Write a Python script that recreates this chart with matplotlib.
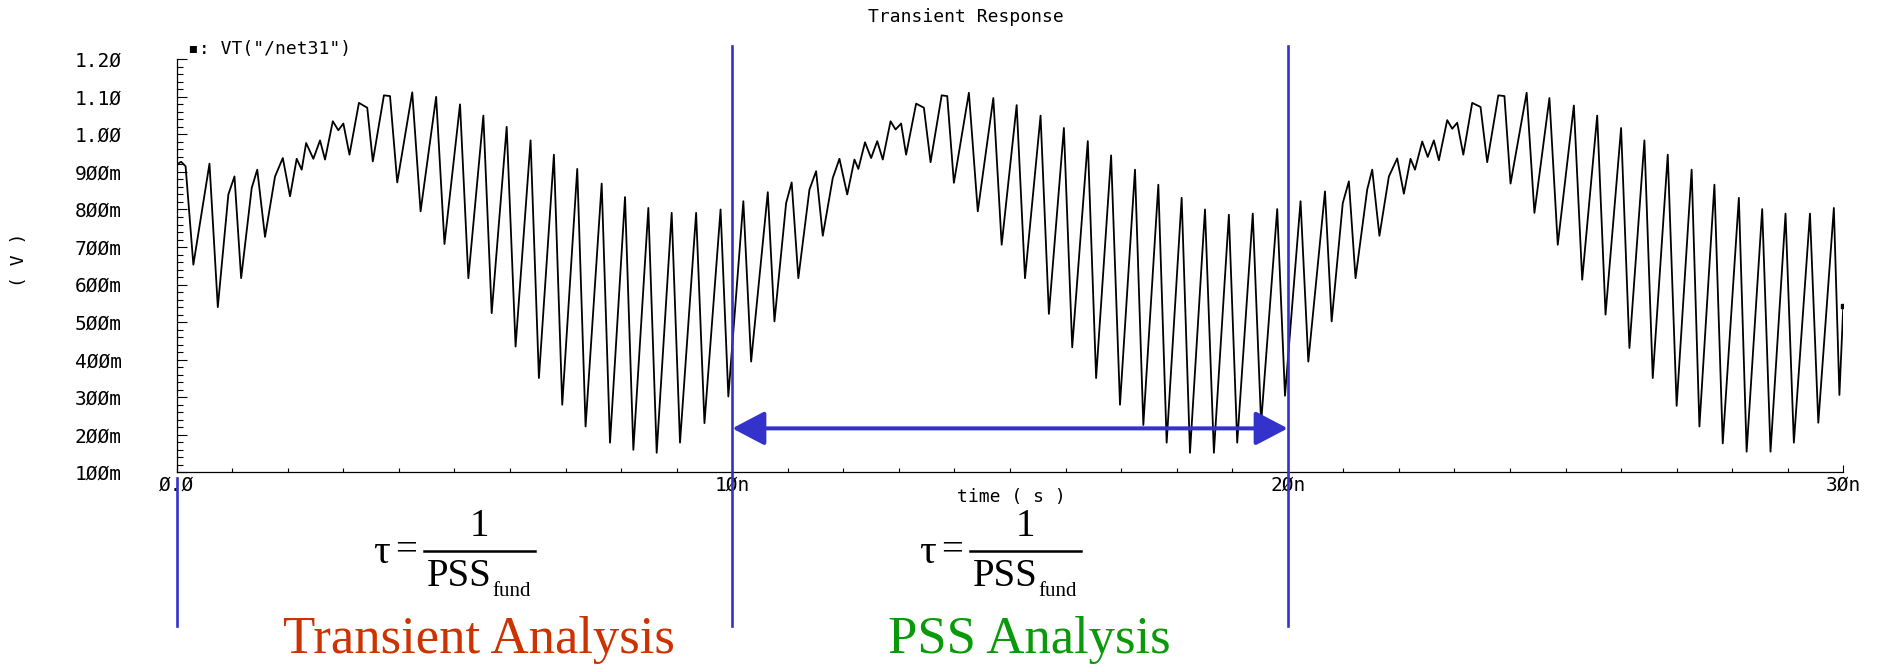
import matplotlib
matplotlib.use("Agg")
import matplotlib.pyplot as plt
import matplotlib.transforms as mtransforms
from matplotlib.patches import FancyArrowPatch, ArrowStyle
from matplotlib.lines import Line2D
from matplotlib.ticker import MultipleLocator

# ---------------- data ----------------
# waveform extrema: time in ns, voltage in V
time_ns = [
    0.00, 0.08, 0.16, 0.30, 0.59, 0.74, 0.93, 1.04, 1.16, 1.35, 1.45, 1.59, 1.77, 1.91,
    2.04, 2.16, 2.25, 2.33, 2.46, 2.58, 2.67, 2.81, 2.91, 3.00, 3.11, 3.28, 3.43, 3.53,
    3.73, 3.84, 3.97, 4.24, 4.39, 4.67, 4.82, 5.10, 5.25, 5.52, 5.67, 5.94, 6.10, 6.37,
    6.52, 6.79, 6.94, 7.21, 7.36, 7.65, 7.80, 8.07, 8.22, 8.49, 8.64, 8.91, 9.06, 9.35,
    9.50, 9.79, 9.93,
    10.20, 10.34, 10.64, 10.76, 10.97, 11.07, 11.19, 11.39, 11.51, 11.63, 11.81, 11.93,
    12.07, 12.20, 12.27, 12.39, 12.50, 12.61, 12.71, 12.85, 12.94, 13.04, 13.13, 13.31,
    13.45, 13.57, 13.77, 13.87, 13.99, 14.26, 14.42, 14.70, 14.85, 15.12, 15.27, 15.55,
    15.70, 15.97, 16.12, 16.40, 16.55, 16.82, 16.98, 17.25, 17.40, 17.67, 17.82, 18.09,
    18.24, 18.51, 18.67, 18.94, 19.09, 19.37, 19.52, 19.81, 19.95,
    20.23, 20.37, 20.67, 20.79, 20.99, 21.10, 21.22, 21.43, 21.52, 21.65, 21.82, 21.97,
    22.09, 22.21, 22.29, 22.42, 22.52, 22.63, 22.72, 22.87, 22.96, 23.05, 23.16, 23.32,
    23.47, 23.59, 23.79, 23.90, 24.01, 24.30, 24.44, 24.71, 24.86, 25.15, 25.30, 25.57,
    25.72, 26.00, 26.15, 26.42, 26.57, 26.84, 27.00, 27.27, 27.41, 27.68, 27.83, 28.12,
    28.26, 28.54, 28.69, 28.96, 29.11, 29.40, 29.55, 29.83, 29.93, 30.00,
]
volts = [
    0.920, 0.927, 0.915, 0.653, 0.922, 0.540, 0.840, 0.888, 0.617, 0.857, 0.906, 0.727, 0.888, 0.937,
    0.835, 0.935, 0.906, 0.977, 0.935, 0.984, 0.933, 1.035, 1.011, 1.029, 0.946, 1.084, 1.071, 0.928,
    1.104, 1.102, 0.872, 1.112, 0.795, 1.100, 0.708, 1.080, 0.617, 1.050, 0.524, 1.020, 0.435, 0.984,
    0.351, 0.946, 0.280, 0.908, 0.222, 0.869, 0.179, 0.833, 0.160, 0.804, 0.152, 0.791, 0.179, 0.791,
    0.231, 0.800, 0.302,
    0.822, 0.395, 0.846, 0.502, 0.817, 0.872, 0.617, 0.853, 0.902, 0.730, 0.884, 0.935,
    0.840, 0.933, 0.908, 0.979, 0.937, 0.982, 0.933, 1.035, 1.013, 1.029, 0.946, 1.082,
    1.071, 0.926, 1.104, 1.102, 0.871, 1.111, 0.795, 1.097, 0.706, 1.078, 0.617, 1.050,
    0.522, 1.017, 0.433, 0.982, 0.351, 0.944, 0.280, 0.906, 0.226, 0.866, 0.179, 0.831,
    0.152, 0.800, 0.152, 0.786, 0.179, 0.789, 0.231, 0.801, 0.304,
    0.822, 0.395, 0.848, 0.502, 0.817, 0.875, 0.617, 0.853, 0.906, 0.730, 0.888, 0.936,
    0.842, 0.935, 0.906, 0.981, 0.940, 0.984, 0.931, 1.038, 1.015, 1.031, 0.946, 1.084,
    1.073, 0.926, 1.104, 1.102, 0.869, 1.111, 0.791, 1.097, 0.706, 1.077, 0.613, 1.050,
    0.520, 1.017, 0.431, 0.984, 0.351, 0.946, 0.277, 0.906, 0.222, 0.866, 0.177, 0.831,
    0.155, 0.801, 0.155, 0.789, 0.179, 0.789, 0.232, 0.804, 0.306, 0.544,
]

y_ticks = [0.1, 0.2, 0.3, 0.4, 0.5, 0.6, 0.7, 0.8, 0.9, 1.0, 1.1, 1.2]
y_tick_labels = ["1ØØm", "2ØØm", "3ØØm", "4ØØm", "5ØØm", "6ØØm", "7ØØm", "8ØØm",
                 "9ØØm", "1.ØØ", "1.1Ø", "1.2Ø"]
x_ticks = [0, 10, 20, 30]
x_tick_labels = ["Ø.Ø", "1Øn", "2Øn", "3Øn"]
period_marks_ns = [10, 20]          # blue markers at the period boundaries
arrow_span_ns = (10, 20)
arrow_level_v = 0.217

# ---------------- figure ----------------
W, H = 1887, 664
fig = plt.figure(figsize=(W / 100, H / 100), dpi=100)
fig.patch.set_facecolor("white")

def fx(px):
    return px / W

def fy(py):
    return 1 - py / H

ax_l, ax_r, ax_t, ax_b = 176.7, 1843.3, 59.3, 472.3
ax = fig.add_axes([fx(ax_l), fy(ax_b), fx(ax_r - ax_l), (ax_b - ax_t) / H])

MONO = ["DejaVu Sans Mono", "DejaVu Sans"]
SERIF = ["Liberation Serif", "DejaVu Serif"]
tick_fs = 14
blue = "#3333cc"

ax.plot(time_ns, volts, color="black", lw=1.3, solid_joinstyle="round")
ax.plot(time_ns[-1:], volts[-1:], "s", color="black", ms=3)

ax.set_xlim(0, 30)
ax.set_ylim(0.1, 1.2)
for s in ("top", "right"):
    ax.spines[s].set_visible(False)
for s in ("left", "bottom"):
    ax.spines[s].set_linewidth(0.9)

ax.set_yticks(y_ticks)
ax.set_yticklabels(y_tick_labels, family=MONO, fontsize=tick_fs)
ax.yaxis.set_minor_locator(MultipleLocator(0.02))
ax.set_xticks(x_ticks)
ax.set_xticklabels(x_tick_labels, family=MONO, fontsize=tick_fs)
ax.xaxis.set_minor_locator(MultipleLocator(1))

ax.tick_params(axis="y", which="major", direction="in", length=7.2, width=0.8,
               pad=(ax_l - 75) * 0.72, right=False)
ax.tick_params(axis="y", which="minor", direction="in", length=4.3, width=0.8, right=False)
ax.tick_params(axis="x", which="major", direction="in", length=5, width=0.8, pad=2.5, top=False)
ax.tick_params(axis="x", which="minor", direction="in", length=3, width=0.8, top=False)
for lbl in ax.get_yticklabels():
    lbl.set_horizontalalignment("left")

# titles / labels
fig.text(fx(966), fy(17), "Transient Response", ha="center", va="center",
         family=MONO, fontsize=13)
fig.text(fx(188), fy(49), "▪: VT(\"/net31\")", ha="left", va="center",
         family=MONO, fontsize=13)
fig.text(fx(19), fy(260), "( V )", ha="center", va="center", rotation=90,
         family=MONO, fontsize=13)
fig.text(fx(1011), fy(497), "time ( s )", ha="center", va="center",
         family=MONO, fontsize=13)

# blue period markers
bt = mtransforms.blended_transform_factory(ax.transData, fig.transFigure)
fig.add_artist(Line2D([0, 0], [fy(478), fy(626)], transform=bt, color=blue, lw=1.9))
for xm in period_marks_ns:
    fig.add_artist(Line2D([xm, xm], [fy(46), fy(626)], transform=bt, color=blue, lw=1.9))

arrow = FancyArrowPatch((arrow_span_ns[0], arrow_level_v), (arrow_span_ns[1], arrow_level_v),
                        arrowstyle=ArrowStyle("<|-|>", head_length=2.0, head_width=1.05),
                        mutation_scale=10, shrinkA=0, shrinkB=0, color=blue, lw=2.9,
                        clip_on=False, zorder=5)
ax.add_patch(arrow)

# formulas tau = 1 / PSS_fund
for dx in (0, 546):
    fs = 28
    fig.text(fx(381 + dx), fy(553), "τ", ha="center", va="center", family=SERIF, fontsize=30)
    fig.text(fx(406 + dx), fy(551), "=", ha="center", va="center", family=SERIF, fontsize=fs)
    fig.add_artist(Line2D([fx(424 + dx), fx(535 + dx)], [fy(551), fy(551)],
                          transform=fig.transFigure, color="black", lw=1.8))
    fig.text(fx(479 + dx), fy(526), "1", ha="center", va="center", family=SERIF, fontsize=fs)
    fig.text(fx(427 + dx), fy(576), "PSS", ha="left", va="center", family=SERIF, fontsize=fs)
    fig.text(fx(492 + dx), fy(592), "fund", ha="left", va="center", family=SERIF, fontsize=15)

fig.text(fx(479), fy(653), "Transient Analysis", ha="center", va="baseline",
         family=SERIF, fontsize=38, color="#cc3300")
fig.text(fx(1029), fy(653), "PSS Analysis", ha="center", va="baseline",
         family=SERIF, fontsize=38, color="#0a990a")

fig.savefig("out.png", dpi=100, facecolor="white")
